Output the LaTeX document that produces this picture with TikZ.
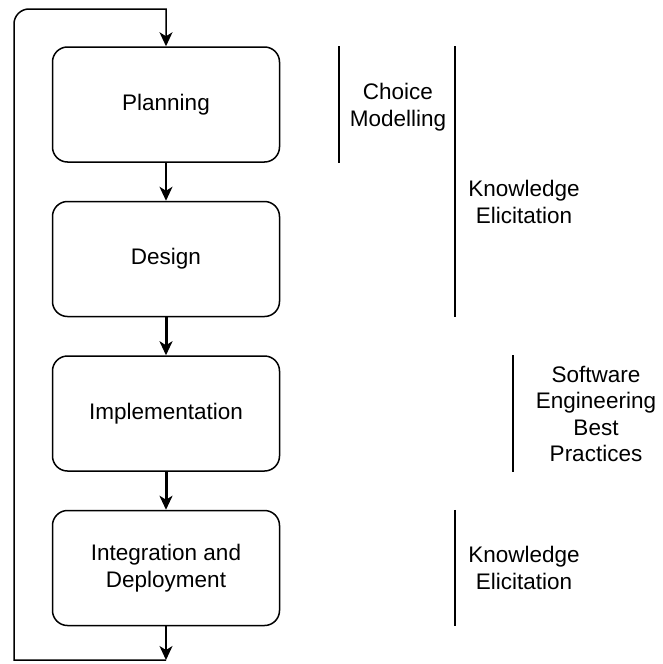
\documentclass[tikz,border=0pt]{standalone}
\usepackage{fontspec}
\setmainfont{Liberation Sans}
\usetikzlibrary{positioning,arrows.meta}

\begin{document}
\begin{tikzpicture}[x=1pt, y=-1pt,
  every node/.style={font=\fontsize{22.5}{26.5}\selectfont, align=center},
  stage/.style={draw, line width=1.5pt, rounded corners=15pt, minimum width=227pt, minimum height=115pt, inner sep=0pt},
  flow/.style={line width=1.5pt, -{Stealth[length=14pt,width=13pt,inset=4pt]}},
  thickflow/.style={line width=3pt, -{Stealth[length=14pt,width=13pt,inset=4pt]}},
  bar/.style={line width=1.5pt}]
\useasboundingbox (0,0) rectangle (662,664);

\node[stage] (plan) at (166,104.5) {Planning};
\node[stage, below=38pt of plan] (design) {Design};
\node[stage, below=38pt of design] (impl) {Implementation};
\node[stage, below=38pt of impl] (integ) {Integration and\\Deployment};

\draw[flow] (plan) -- (design);
\draw[thickflow] (design) -- (impl);
\draw[thickflow] (impl) -- (integ);

% loop back to the start
\coordinate (loopend) at (integ.south |- 0,660);
\coordinate (loopstart) at (plan.north |- 0,9);
\draw[flow] (integ) -- (loopend);
\draw[flow] (loopend) -- (14,660) -- (14,24) arc[start angle=180, end angle=270, radius=15] -- (loopstart) -- (plan);

% brackets
\draw[bar] (339,0 |- plan.north) -- (339,0 |- plan.south);
\node (choice) at (398,107) {Choice\\Modelling};
\draw[bar] (455,0 |- plan.north) -- (455,0 |- design.south);
\node (know1) at (524,202) {Knowledge\\Elicitation};
\draw[bar] (513,0 |- impl.north) -- (513,0 |- impl.south);
\node (soft) at (596,414) {Software\\Engineering\\Best\\Practices};
\draw[bar] (455,0 |- integ.north) -- (455,0 |- integ.south);
\node (know2) at (524,568) {Knowledge\\Elicitation};
\end{tikzpicture}
\end{document}
